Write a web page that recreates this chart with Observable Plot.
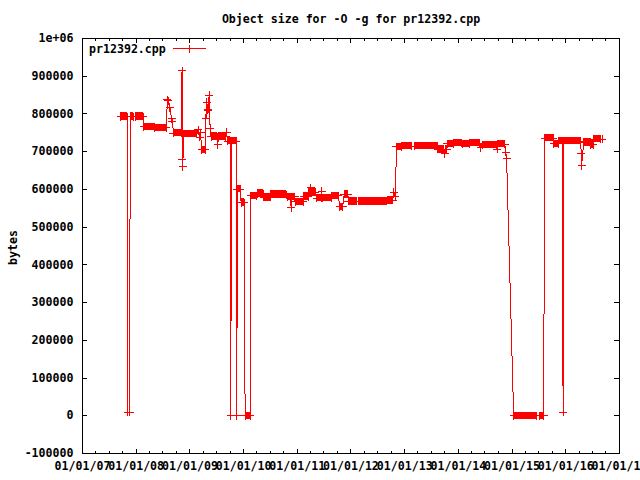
<!DOCTYPE html>
<html><head><meta charset="utf-8">
<script src="https://cdn.jsdelivr.net/npm/d3@7"></script>
<script src="https://cdn.jsdelivr.net/npm/@observablehq/plot@0.6"></script>
<style>html,body{margin:0;padding:0;background:#fff;overflow:hidden}</style>
</head><body><div id="chart"></div>
<script>
// Dense runs of nightly measurements (drawn as solid blocks), start / end / bytes
const runStart = ["2007-09-18","2007-11-22","2007-12-27","2008-02-23","2008-05-07","2008-09-11","2008-11-17","2009-03-22","2009-05-25","2009-07-14","2009-09-15","2009-10-10","2009-11-19","2009-12-15","2010-01-11","2010-02-19","2010-04-03","2010-05-19","2010-07-04","2010-10-25","2010-11-26","2010-12-17","2011-02-13","2011-03-18","2011-04-07","2011-05-14","2011-06-21","2011-08-24","2011-10-16","2011-11-16","2011-12-15","2012-02-22","2012-09-05","2012-11-06","2012-12-13","2013-03-07","2013-08-14","2013-10-04","2013-10-16","2013-12-01","2014-01-28","2014-03-20","2014-06-11","2014-09-25","2015-01-12","2015-07-06","2015-08-11","2015-10-13","2015-11-16","2015-12-18","2016-05-03","2016-06-21","2016-07-11"];
const runEnd   = ["2007-10-31","2007-12-15","2008-02-17","2008-05-02","2008-07-25","2008-11-05","2009-02-16","2009-04-14","2009-07-04","2009-08-31","2009-10-03","2009-11-13","2009-12-08","2010-01-06","2010-02-14","2010-03-30","2010-05-16","2010-06-30","2010-10-22","2010-11-17","2010-12-14","2011-02-10","2011-03-16","2011-04-01","2011-05-03","2011-06-14","2011-08-21","2011-10-08","2011-11-06","2011-12-11","2012-02-11","2012-09-02","2012-10-12","2012-12-10","2013-02-19","2013-08-10","2013-09-24","2013-10-13","2013-11-27","2014-01-24","2014-03-16","2014-05-27","2014-09-18","2014-11-13","2015-06-15","2015-08-04","2015-10-09","2015-11-12","2015-12-11","2016-04-11","2016-06-17","2016-07-08","2016-08-25"];
const runBytes = [793000,793000,793000,766000,763000,749000,747000,705000,740000,740000,728000,728000,601000,565000,0,583000,589000,579000,586000,580000,580000,567000,581000,592000,592000,577000,577000,583000,554000,587000,568000,568000,571000,713000,715000,715000,706000,706000,721000,723000,720000,723000,718000,720000,0,0,736000,721000,728000,728000,725000,719000,733000];

// Isolated measurements
const sampleDate  = ["2007-11-04","2007-11-17","2008-07-31","2008-08-08","2008-08-18","2008-08-29","2008-09-04","2008-11-08","2008-11-11","2008-11-14","2009-02-25","2009-03-07","2009-03-14","2009-04-20","2009-04-26","2009-05-01","2009-05-07","2009-05-11","2009-05-18","2009-07-09","2009-09-07","2009-10-06","2009-11-16","2010-11-20","2011-04-03","2011-06-17","2012-10-17","2012-10-29","2013-10-01","2014-06-01","2014-09-22","2014-11-18","2014-11-25","2015-12-14","2016-04-16","2016-04-18","2016-09-05"];
const sampleBytes = [10000,10000,837000,835000,816000,787000,780000,915000,679000,660000,758000,738000,750000,789000,831000,810000,812000,849000,762000,718000,751000,0,0,551000,604000,595000,592000,581000,694000,710000,707000,698000,683000,9000,696000,663000,733000];

const yTicks = [-100000,0,100000,200000,300000,400000,500000,600000,700000,800000,900000,1000000];
const yTickLabels = ["-100000","0","100000","200000","300000","400000","500000","600000","700000","800000","900000","1e+06"];
const xTicks = ["2007-01-01","2008-01-01","2009-01-01","2010-01-01","2011-01-01","2012-01-01","2013-01-01","2014-01-01","2015-01-01","2016-01-01","2017-01-01"];
const xTickLabels = ["01/01/07","01/01/08","01/01/09","01/01/10","01/01/11","01/01/12","01/01/13","01/01/14","01/01/15","01/01/16","01/01/17"];

const titleText = "Object size for -O -g for pr12392.cpp";
const yLabel = "bytes";
const seriesName = "pr12392.cpp";

const red = "#ff0000";
const W = 640, H = 480, mL = 82, mR = 21, mT = 38, mB = 27;
const innerW = W - mL - mR, innerH = H - mT - mB;

const runs = runStart.map((s, i) => ({start: new Date(s), end: new Date(runEnd[i]), bytes: runBytes[i]}));
const samples = sampleDate.map((d, i) => ({date: new Date(d), bytes: sampleBytes[i]}));
const vertices = d3.sort([
  ...runs.flatMap(r => [{date: r.start, bytes: r.bytes}, {date: r.end, bytes: r.bytes}]),
  ...samples
], d => d.date);

const xMajor = xTicks.map(d => new Date(d));
const xMinor = d3.utcMonths(new Date("2007-01-01"), new Date("2017-01-01"), 3).filter(d => d.getUTCMonth() !== 0);
const yLabMap = new Map(yTicks.map((t, i) => [t, yTickLabels[i]]));
const xLabMap = new Map(xMajor.map((t, i) => [+t, xTickLabels[i]]));

const plusSymbol = {
  draw(ctx, size) {
    const r = Math.sqrt(size / Math.PI);
    ctx.moveTo(-r, 0); ctx.lineTo(r, 0);
    ctx.moveTo(0, -r); ctx.lineTo(0, r);
  }
};

const crisp = {shapeRendering: "crispEdges"};
const plot = Plot.plot({
  width: W, height: H,
  marginLeft: mL, marginRight: mR, marginTop: mT, marginBottom: mB,
  style: {fontFamily: "'DejaVu Sans Mono', monospace", fontSize: "11.6px", fontWeight: "bold", background: "white", color: "black"},
  x: {type: "utc", domain: [new Date("2007-01-01"), new Date("2017-01-01")]},
  y: {domain: [-100000, 1000000]},
  marks: [
    // inward ticks on all four sides
    Plot.tickY(yTicks, {y: d => d, insetRight: innerW - 5, stroke: "black", ...crisp}),
    Plot.tickY(yTicks, {y: d => d, insetLeft: innerW - 5, stroke: "black", ...crisp}),
    Plot.tickX(xMajor, {x: d => d, insetTop: innerH - 4.5, stroke: "black", ...crisp}),
    Plot.tickX(xMajor, {x: d => d, insetBottom: innerH - 4.5, stroke: "black", ...crisp}),
    Plot.tickX(xMinor, {x: d => d, insetTop: innerH - 2.5, stroke: "black", ...crisp}),
    Plot.tickX(xMinor, {x: d => d, insetBottom: innerH - 2.5, stroke: "black", ...crisp}),
    Plot.axisY({ticks: yTicks, tickSize: 0, tickPadding: 9, tickFormat: d => yLabMap.get(+d), label: null}),
    Plot.axisX({ticks: xMajor, tickSize: 0, tickPadding: 8, tickFormat: d => xLabMap.get(+d), label: null}),
    Plot.line(vertices, {x: "date", y: "bytes", stroke: red, strokeWidth: 1, ...crisp}),
    Plot.rect(runs, {x1: "start", x2: "end", y1: "bytes", y2: "bytes", fill: red, insetTop: -3.75, insetBottom: -3.75, ...crisp}),
    Plot.dot(vertices, {x: "date", y: "bytes", symbol: plusSymbol, r: 4, stroke: red, fill: "none", strokeWidth: 1, ...crisp}),
    Plot.frame({stroke: "black", ...crisp}),
    Plot.text([titleText], {text: d => d, frameAnchor: "top", dy: -19.5, lineAnchor: "middle", textAnchor: "middle"}),
    Plot.text([yLabel], {text: d => d, frameAnchor: "left", dx: -69.5, dy: 1.5, rotate: -90, lineAnchor: "middle", textAnchor: "middle"})
  ]
});

// key (legend)
const svg = d3.select(plot);
const key = svg.append("g").attr("text-anchor", "start");
key.append("text").attr("x", 89).attr("y", 52.5).attr("fill", "black").attr("text-anchor", "start").text(seriesName);
key.append("line").attr("x1", 173).attr("x2", 206).attr("y1", 48.5).attr("y2", 48.5)
  .attr("stroke", red).attr("shape-rendering", "crispEdges");
key.append("path").attr("d", "M185.5,48.5H193.5M189.5,44.5V52.5")
  .attr("stroke", red).attr("fill", "none").attr("shape-rendering", "crispEdges");

document.getElementById("chart").appendChild(plot);
</script>
</body></html>
